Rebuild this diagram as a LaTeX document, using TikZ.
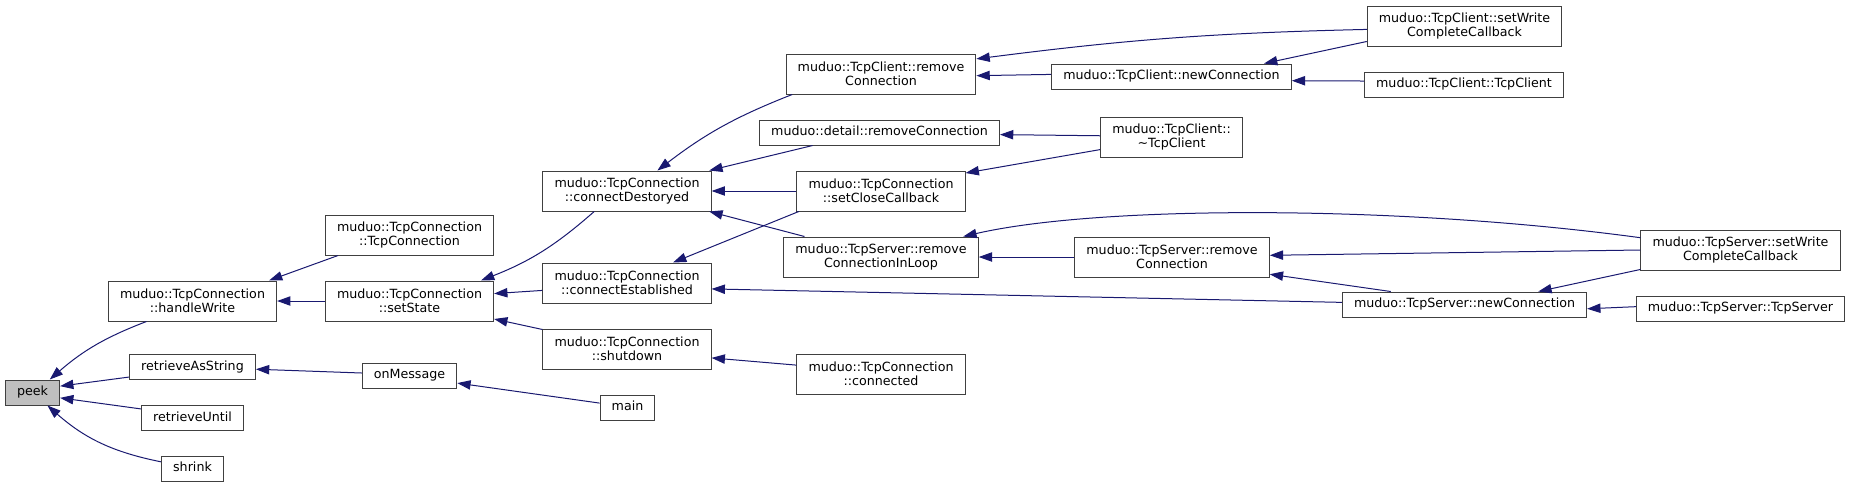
\documentclass[tikz,border=0pt]{standalone}
\usepackage{fontspec}
\usetikzlibrary{arrows.meta}
\newfontfamily\graphfont{DejaVu Sans}
\newcommand{\boxfont}{\graphfont\fontsize{9.5}{10.8}\selectfont}
\definecolor{EdgeBlue}{HTML}{191970}
\definecolor{Frame}{HTML}{404040}
\definecolor{Focus}{HTML}{BFBFBF}
\tikzset{
 fnbox/.style={draw=Frame, fill=white, line width=0.75pt, font=\boxfont, inner xsep=8.7pt, inner ysep=0pt, minimum height=18.75pt, text height=7.1pt, text depth=2.1pt},
 fnbox2/.style={fnbox, align=center, minimum height=30pt, text height=, text depth=},
 rootbox/.style={fnbox, fill=Focus},
 callarrow/.style={-{Triangle[length=10pt,width=7pt]}, draw=EdgeBlue, line width=0.75pt}
}
\begin{document}
\begin{tikzpicture}[x=0.75pt,y=-0.75pt]
\useasboundingbox (0,0) rectangle (1851,487);
% column 0 and 1
\node[rootbox] (peek) at (32.5,392.5) {peek};
\node[fnbox2] (handleWrite) at (192.5,301) {muduo::TcpConnection\\::handleWrite};
\node[fnbox] (retrieveStr) at (192.5,367) {retrieveAsString};
\node[fnbox] (retrieveUntil) at (192.5,418) {retrieveUntil};
\node[fnbox] (shrink) at (192.5,468.5) {shrink};
% column 2
\node[fnbox2] (connCtor) at (409.5,235) {muduo::TcpConnection\\::TcpConnection};
\node[fnbox2] (setState) at (409.5,301) {muduo::TcpConnection\\::setState};
\node[fnbox] (onMessage) at (409.5,375.5) {onMessage};
% column 3
\node[fnbox2] (connDestroyed) at (627,191) {muduo::TcpConnection\\::connectDestoryed};
\node[fnbox2] (connEstablished) at (627,283) {muduo::TcpConnection\\::connectEstablished};
\node[fnbox2] (shutdown) at (627,349) {muduo::TcpConnection\\::shutdown};
\node[fnbox] (main) at (627.5,407.5) {main};
% column 4
\node[fnbox2] (clientRemove) at (881,74) {muduo::TcpClient::remove\\Connection};
\node[fnbox] (detailRemove) at (879.5,132.5) {muduo::detail::removeConnection};
\node[fnbox2] (setClose) at (881,191) {muduo::TcpConnection\\::setCloseCallback};
\node[fnbox2] (serverRemoveLoop) at (881,257) {muduo::TcpServer::remove\\ConnectionInLoop};
\node[fnbox2] (connected) at (881,374) {muduo::TcpConnection\\::connected};
% column 5
\node[fnbox] (clientNew) at (1171.5,76.5) {muduo::TcpClient::newConnection};
\node[fnbox2] (clientDtor) at (1171.5,137) {muduo::TcpClient::\\\textasciitilde TcpClient};
\node[fnbox2] (serverRemove) at (1172,257) {muduo::TcpServer::remove\\Connection};
% column 6 and 7
\node[fnbox2] (clientSetWrite) at (1464.5,26) {muduo::TcpClient::setWrite\\CompleteCallback};
\node[fnbox] (clientCtor) at (1464,84.5) {muduo::TcpClient::TcpClient};
\node[fnbox] (serverNew) at (1464.5,304.5) {muduo::TcpServer::newConnection};
\node[fnbox2] (serverSetWrite) at (1740.5,250) {muduo::TcpServer::setWrite\\CompleteCallback};
\node[fnbox] (serverCtor) at (1740.5,308.5) {muduo::TcpServer::TcpServer};
% calls into peek
\draw[callarrow] (handleWrite.204) to[bend right=10] (peek.37);\draw[callarrow] (retrieveStr.189) -- (peek.13);
\draw[callarrow] (retrieveUntil.170) -- (peek.349);\draw[callarrow] (shrink.168) to[bend left=15] (peek.319);
% column 2 to 1
\draw[callarrow] (connCtor.196.5) -- (handleWrite.15.4);\draw[callarrow] (setState.west) -- (handleWrite.east);
\draw[callarrow] (onMessage.177) -- (retrieveStr.358);
% column 3 to 2
\draw[callarrow] (connDestroyed.212) to[bend left=10] (setState.16.5);\draw[callarrow] (connEstablished.185) -- (setState.5);
\draw[callarrow] (shutdown.167) -- (setState.348);\draw[callarrow] (main.171) -- (onMessage.351);
% column 4 to 3
\draw[callarrow] (clientRemove.193) to[bend right=8] (connDestroyed.34);\draw[callarrow] (detailRemove.191.3) -- (connDestroyed.14);
\draw[callarrow] (setClose.west) -- (connDestroyed.east);\draw[callarrow] (serverRemoveLoop.165.8) -- (connDestroyed.346);
\draw[callarrow] (setClose.194) -- (connEstablished.24);\draw[callarrow] (connected.174) -- (shutdown.354);
% column 5 and 6 to 4
\draw[callarrow] (clientSetWrite.182.3) to[bend right=3] (clientRemove.9.5);\draw[callarrow] (clientNew.179) -- (clientRemove.359);
\draw[callarrow] (clientDtor.179) -- (detailRemove.359);\draw[callarrow] (clientDtor.190.3) -- (setClose.12);
\draw[callarrow] (serverSetWrite.173) .. controls (1400,205) and (1100,205) .. (serverRemoveLoop.14);
\draw[callarrow] (serverRemove.west) -- (serverRemoveLoop.east);\draw[callarrow] (serverNew.179.3) -- (connEstablished.356.6);
% columns 6 and 7 to 5 and 6
\draw[callarrow] (clientSetWrite.189.8) -- (clientNew.8.7);\draw[callarrow] (clientCtor.178.6) -- (clientNew.358);
\draw[callarrow] (serverSetWrite.180.6) -- (serverRemove.1.2);\draw[callarrow] (serverNew.170.8) -- (serverRemove.350);
\draw[callarrow] (serverSetWrite.191.5) -- (serverNew.10.2);\draw[callarrow] (serverCtor.179) -- (serverNew.358.8);
\end{tikzpicture}
\end{document}
